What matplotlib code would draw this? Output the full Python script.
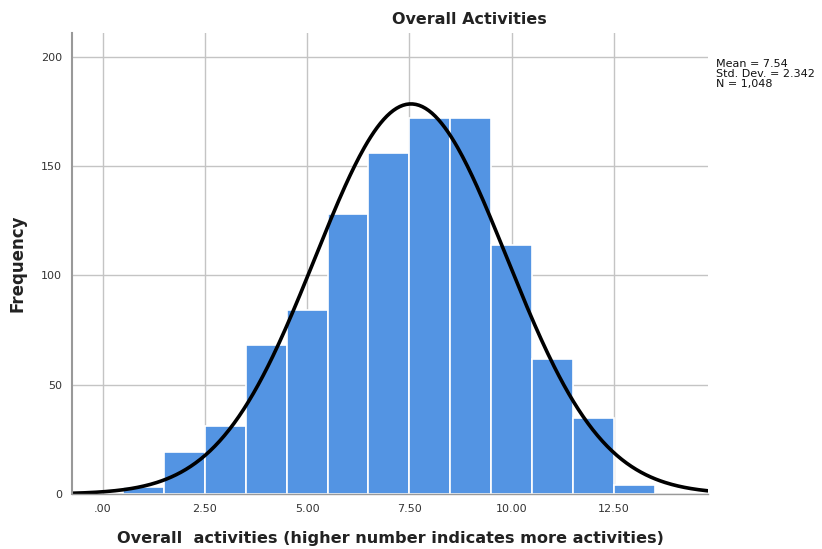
import numpy as np
import matplotlib.pyplot as plt

# histogram of overall activities score, bins of width 1
bin_edges = [0.5, 1.5, 2.5, 3.5, 4.5, 5.5, 6.5, 7.5, 8.5, 9.5, 10.5, 11.5, 12.5, 13.5]
counts = [3, 19, 31, 68, 84, 128, 156, 172, 172, 114, 62, 35, 4]
mean = 7.54
sd = 2.342
n = 1048

xticks = [0, 2.5, 5, 7.5, 10, 12.5]
xtick_labels = ['.00', '2.50', '5.00', '7.50', '10.00', '12.50']
yticks = [0, 50, 100, 150, 200]

fig = plt.figure(figsize=(8.22, 5.49), dpi=100)
ax = fig.add_axes([0.0872, 0.1002, 0.7738, 0.8398])

ax.set_axisbelow(True)
ax.grid(True, color='#c4c4c4', linewidth=1.0)

widths = np.diff(bin_edges)
ax.bar(bin_edges[:-1], counts, width=widths, align='edge',
       color='#5394e3', edgecolor='white', linewidth=1.2)

# normal curve scaled to counts
xs = np.linspace(-0.8, 14.9, 400)
bw = bin_edges[1] - bin_edges[0]
ys = n * bw / (sd * np.sqrt(2 * np.pi)) * np.exp(-0.5 * ((xs - mean) / sd) ** 2)
ax.plot(xs, ys, color='black', linewidth=2.6)

ax.set_xlim(-0.76, 14.8)
ax.set_ylim(0, 211)
ax.set_xticks(xticks)
ax.set_xticklabels(xtick_labels)
ax.set_yticks(yticks)
ax.tick_params(length=0, labelsize=8, colors='#333333', pad=7)

for side in ['top', 'right']:
    ax.spines[side].set_visible(False)
ax.spines['left'].set_color('#999999')
ax.spines['left'].set_linewidth(1.5)
ax.spines['bottom'].set_color('#999999')
ax.spines['bottom'].set_linewidth(1.0)

fig.text(469 / 822, 1 - 19 / 549, 'Overall Activities', ha='center', va='center',
         fontsize=11.5, fontweight='bold', color='#222222')
fig.text(390 / 822, 1 - 539 / 549, 'Overall  activities (higher number indicates more activities)',
         ha='center', va='center', fontsize=11.6, fontweight='bold', color='#222222')
fig.text(18 / 822, 1 - 263 / 549, 'Frequency', ha='center', va='center', rotation=90,
         fontsize=12, fontweight='bold', color='#222222')
fig.text(716 / 822, 1 - 74 / 549,
         'Mean = %.2f\nStd. Dev. = %.3f\nN = %s' % (mean, sd, format(n, ',')),
         ha='left', va='center', fontsize=8, linespacing=0.95, color='#111111')

fig.savefig('out.png', dpi=100)
